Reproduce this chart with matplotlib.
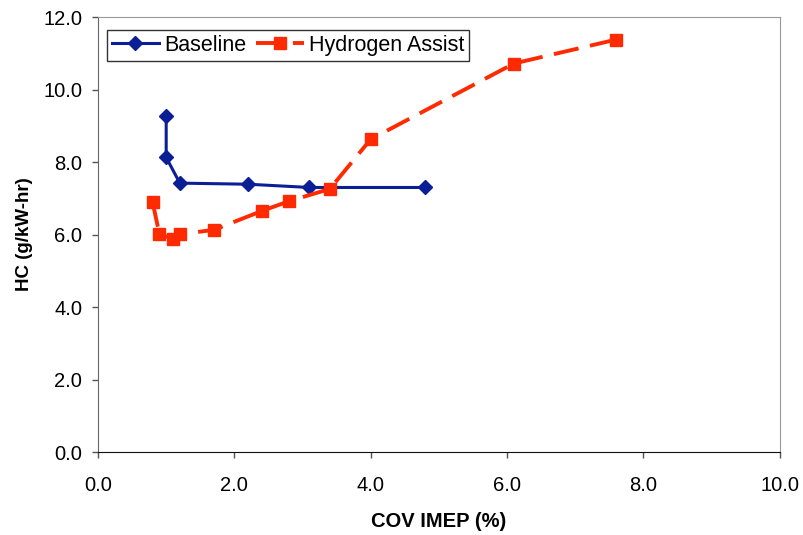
import matplotlib
matplotlib.use('Agg')
from matplotlib import pyplot as plt

# 数据
base_x = [1.0, 1.0, 1.2, 2.2, 3.1, 4.8]
base_y = [9.27, 8.13, 7.42, 7.39, 7.30, 7.30]

h2_x = [0.8, 0.9, 1.1, 1.2, 1.7, 2.4, 2.8, 3.4, 4.0, 6.1, 7.6]
h2_y = [6.90, 6.02, 5.88, 6.01, 6.13, 6.65, 6.92, 7.26, 8.63, 10.72, 11.38]

x_ticks = [0, 2, 4, 6, 8, 10]
y_ticks = [0, 2, 4, 6, 8, 10, 12]

plt.rcParams['font.family'] = ['Liberation Sans', 'DejaVu Sans']

fig = plt.figure(figsize=(8.04, 5.35), dpi=100)
ax = fig.add_axes([0.1219, 0.155, 0.848, 0.813])

ax.plot(base_x, base_y, color='#0A1E96', lw=2.2, marker='D', ms=7.5,
        label='Baseline')
ax.plot(h2_x, h2_y, color='#FF2A00', lw=2.8, marker='s', ms=8.5,
        dashes=(6.5, 3.0), label='Hydrogen Assist')

ax.set_xlim(0, 10)
ax.set_ylim(0, 12)
ax.set_xticks(x_ticks)
ax.set_yticks(y_ticks)
ax.set_xticklabels([f'{v:.1f}' for v in x_ticks], fontsize=14.5)
ax.set_yticklabels([f'{v:.1f}' for v in y_ticks], fontsize=14.5)
ax.tick_params(direction='out', length=4.5, width=1, color='#555555',
               labelcolor='black')
ax.tick_params(axis='x', pad=13)
ax.tick_params(axis='y', pad=7)

for side in ['top', 'right']:
    ax.spines[side].set_color('#999999')
ax.spines['left'].set_color('#666666')
ax.spines['bottom'].set_color('#111111')

ax.set_xlabel('COV IMEP (%)', fontsize=14.5, fontweight='bold', labelpad=12)
ax.set_ylabel('HC (g/kW-hr)', fontsize=13.5, fontweight='bold', labelpad=7)

leg = ax.legend(loc='upper left', bbox_to_anchor=(0.0132, 0.970), ncol=2,
                fontsize=15.5, frameon=True, fancybox=False, edgecolor='black',
                borderaxespad=0, handlelength=2.2, handletextpad=0.25,
                columnspacing=0.45, borderpad=0.22)
leg.get_frame().set_linewidth(1.0)

plt.savefig('out.png', dpi=100)
